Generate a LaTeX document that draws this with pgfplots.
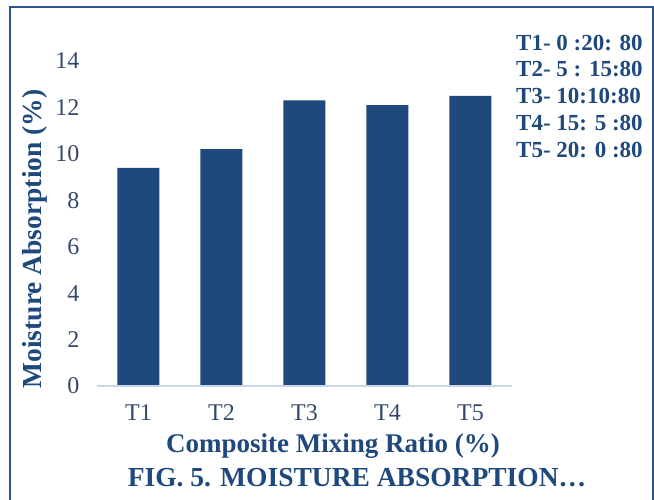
\documentclass[border=0pt]{standalone}
\usepackage{fontspec}
\setmainfont{Liberation Serif}
\usepackage{pgfplots}
\pgfplotsset{compat=1.18}
\definecolor{barblue}{RGB}{31,73,125}
\definecolor{txtblue}{RGB}{31,73,125}
\definecolor{tickblue}{RGB}{52,72,108}
\definecolor{axisrule}{RGB}{200,214,234}
\definecolor{frameblue}{RGB}{47,82,143}

\begin{document}
\begin{tikzpicture}[x=1pt,y=1pt]
\path[use as bounding box] (0,0) rectangle (654,499);
% outer frame (open at the bottom)
\draw[frameblue,line width=2pt] (10,-3) -- (10,492) -- (653,492) -- (653,-3);

\begin{axis}[
  at={(97pt,113pt)}, anchor=south west,
  width=415pt, height=325pt, scale only axis,
  xmin=-0.5, xmax=4.5, ymin=0, ymax=14,
  ytick={0,2,...,14},
  xtick={0,...,4}, xticklabels={T1,T2,T3,T4,T5},
  axis line style={draw=none},
  major tick length=0pt,
  /pgf/number format/assume math mode=true,
  tick label style={font=\fontsize{24}{26}\selectfont, text=tickblue},
  yticklabel style={xshift=-14pt},
  xticklabel style={yshift=-15pt},
  clip=false,
]
\addplot[ybar, bar width=42pt, fill=barblue, draw=none]
  coordinates {(0,9.4) (1,10.2) (2,12.3) (3,12.1) (4,12.5)};
\draw[axisrule, line width=1.2pt] (rel axis cs:0,0) -- (rel axis cs:1,0);
\end{axis}

\node[rotate=90, text=txtblue, font=\bfseries\fontsize{27.5}{30}\selectfont] at (35,260) {Moisture Absorption (\%)};
\node[text=txtblue, font=\bfseries\fontsize{27}{30}\selectfont] at (333,53) {Composite Mixing Ratio (\%)};
\node[text=txtblue, font=\bfseries\fontsize{27.5}{30}\selectfont] at (357,21) {FIG. 5. MOISTURE ABSORPTION…};

% mixing ratio key
\begin{scope}[every node/.style={anchor=west, inner sep=0pt, text=txtblue, font=\bfseries\fontsize{23}{25}\selectfont}]
\node at (516,456) {T1- 0 :20: 80};
\node at (516,430) {T2- 5 : 15:80};
\node at (516,403) {T3- 10:10:80};
\node at (516,376) {T4- 15: 5 :80};
\node at (516,349) {T5- 20: 0 :80};
\end{scope}
\end{tikzpicture}
\end{document}
